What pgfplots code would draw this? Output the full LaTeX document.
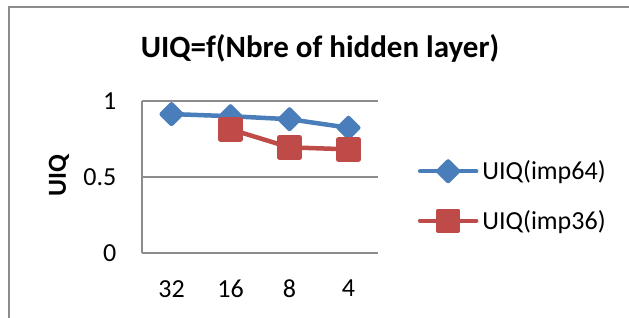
\documentclass[border=0pt]{standalone}
\usepackage{pgfplots}
\pgfplotsset{compat=1.18}
\usepackage{fontspec}
\setmainfont{Carlito}
\definecolor{exblue}{HTML}{4A7EBB}
\definecolor{exred}{HTML}{BE4B48}
\definecolor{exgrid}{HTML}{8C8C8C}
\definecolor{exframe}{HTML}{8C8C8C}
\begin{document}
\begin{tikzpicture}
\useasboundingbox (0,0) rectangle (629pt,318pt);
\draw[exframe, line width=2pt] (9pt,-5pt) -- (9pt,310.5pt) -- (640pt,310.5pt);
\node[anchor=base, inner sep=0pt, font=\fontsize{31}{36}\selectfont\bfseries] at (320pt,260pt) {UIQ=f(Nbre of hidden layer)};
\begin{axis}[
  at={(142pt,65pt)}, anchor=south west,
  scale only axis, width=236pt, height=152pt,
  xmin=-0.5, xmax=3.5, ymin=0, ymax=1,
  xtick={0,1,2,3}, xticklabels={32,16,8,4},
  ytick={0,0.5,1}, yticklabels={0,0.5,1},
  axis x line*=bottom, axis y line*=left,
  axis line style={exgrid, line width=1.3pt},
  ymajorgrids, grid style={exgrid, line width=1.3pt},
  major tick length=0pt,
  tick style={draw=none},
  ticklabel style={font=\fontsize{26}{30}\selectfont, inner sep=0pt},
  xticklabel style={anchor=north, yshift=-27pt},
  yticklabel style={anchor=east, xshift=-25.5pt},
  ylabel={UIQ},
  ylabel style={font=\fontsize{26}{30}\selectfont\bfseries, at={(axis description cs:-0.352,0.507)}, anchor=center, inner sep=0pt},
  legend style={at={(axis description cs:1.169,0.375)}, anchor=west, draw=none, fill=none,
    inner sep=0pt, outer sep=0pt, row sep=29pt, column sep=4pt,
    font=\fontsize{26}{30}\selectfont, nodes={inner sep=0pt}},
  legend cell align=left,
  legend image code/.code={\draw[mark repeat=2,mark phase=2,#1] plot coordinates {(0pt,0pt) (28pt,0pt) (56pt,0pt)};},
  clip=false,
]
\addplot[exblue, line width=4.5pt, line cap=round, line join=round,
  mark=square*, mark size=6.9pt, mark options={solid, rotate=45, fill=exblue, draw=none}]
  coordinates {(0,0.914) (1,0.900) (2,0.880) (3,0.824)};
\addlegendentry{UIQ(imp64)}
\addplot[exred, line width=4.5pt, line cap=round, line join=round,
  mark=square*, mark size=10pt, mark options={solid, fill=exred, draw=none}]
  coordinates {(1,0.814) (2,0.695) (3,0.682)};
\addlegendentry{UIQ(imp36)}
\end{axis}
\end{tikzpicture}
\end{document}
